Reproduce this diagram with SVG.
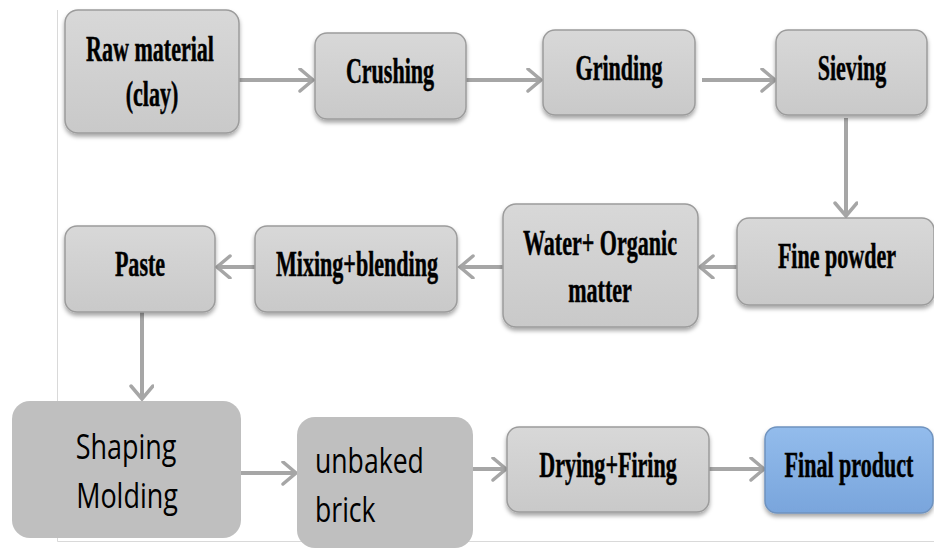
<svg xmlns="http://www.w3.org/2000/svg" width="934" height="548" viewBox="0 0 934 548">
<defs>
<linearGradient id="g" x1="0" y1="0" x2="0" y2="1"><stop offset="0" stop-color="#d8d8d8"/><stop offset="1" stop-color="#c9c9c9"/></linearGradient>
<linearGradient id="b" x1="0" y1="0" x2="0" y2="1"><stop offset="0" stop-color="#93bcec"/><stop offset="1" stop-color="#79a5dc"/></linearGradient>
<filter id="sh" x="-10%" y="-10%" width="120%" height="130%"><feDropShadow dx="0" dy="3" stdDeviation="2" flood-color="#000" flood-opacity="0.35"/></filter>
<marker id="ar" markerUnits="userSpaceOnUse" markerWidth="20" markerHeight="30" refX="15" refY="12" orient="auto"><path d="M2,1 L15,12 L2,23" fill="none" stroke="#a6a6a6" stroke-width="3.5" stroke-linecap="round"/></marker>
</defs>
<style>
.box{fill:url(#g);stroke:#9c9c9c;stroke-width:1.5;filter:url(#sh)}
.blue{fill:url(#b);stroke:#6f93bf;stroke-width:1.5;filter:url(#sh)}
.soft{fill:#bfbfbf}
.t{font-family:"Liberation Serif","Times New Roman",serif;font-weight:bold;font-size:35px;fill:#000;stroke:#000;stroke-width:0.5;text-anchor:middle}
.s{font-family:"Open Sans","Liberation Sans",sans-serif;font-size:35px;fill:#000}
.c{fill:none;stroke:#a6a6a6;stroke-width:4;marker-end:url(#ar)}
.frame{fill:none;stroke:#d9d9d9;stroke-width:1}
</style>
<rect width="934" height="548" fill="#fff"/>
<path class="frame" d="M57.5,10 V541.5 H934"/>
<g id="connectors">
<path class="c" d="M239,80 H313"/>
<path class="c" d="M466,80 H541"/>
<path class="c" d="M702,80 H775"/>
<path class="c" d="M846,118 V216"/>
<path class="c" d="M737,267 H700"/>
<path class="c" d="M503,267 H460"/>
<path class="c" d="M255,267 H217"/>
<path class="c" d="M142,312 V399"/>
<path class="c" d="M241,473 H296"/>
<path class="c" d="M473,469 H506"/>
<path class="c" d="M709,469 H764"/>
</g>
<g id="raw"><rect class="box" x="65" y="10" width="174" height="123" rx="13"/>
<text class="t" transform="translate(150,61) scale(0.63,1)">Raw material</text>
<text class="t" transform="translate(152,106) scale(0.63,1)">(clay)</text></g>
<g id="crushing"><rect class="box" x="315" y="33" width="151" height="86" rx="12"/>
<text class="t" transform="translate(390,83) scale(0.63,1)">Crushing</text></g>
<g id="grinding"><rect class="box" x="543" y="30" width="152" height="85" rx="12"/>
<text class="t" transform="translate(619,80) scale(0.63,1)">Grinding</text></g>
<g id="sieving"><rect class="box" x="776" y="30" width="151" height="85" rx="12"/>
<text class="t" transform="translate(852,80) scale(0.63,1)">Sieving</text></g>
<g id="finepowder"><rect class="box" x="737" y="218" width="197" height="87" rx="12"/>
<text class="t" transform="translate(837,268) scale(0.63,1)">Fine powder</text></g>
<g id="water"><rect class="box" x="503" y="204" width="195" height="123" rx="13"/>
<text class="t" transform="translate(600,255) scale(0.63,1)">Water+ Organic</text>
<text class="t" transform="translate(600,302) scale(0.63,1)">matter</text></g>
<g id="mixing"><rect class="box" x="255" y="226" width="202" height="86" rx="12"/>
<text class="t" transform="translate(357,276) scale(0.63,1)">Mixing+blending</text></g>
<g id="paste"><rect class="box" x="65" y="226" width="150" height="86" rx="12"/>
<text class="t" transform="translate(140,276) scale(0.63,1)">Paste</text></g>
<g id="shaping"><rect class="soft" x="12" y="401" width="229" height="137" rx="18"/>
<text class="s" text-anchor="middle" transform="translate(126,459) scale(0.77,1)">Shaping</text>
<text class="s" text-anchor="middle" transform="translate(127,508) scale(0.77,1)">Molding</text></g>
<g id="unbaked"><rect class="soft" x="297" y="417" width="176" height="131" rx="18"/>
<text class="s" transform="translate(315,473) scale(0.76,1)">unbaked</text>
<text class="s" transform="translate(315,522) scale(0.76,1)">brick</text></g>
<g id="drying"><rect class="box" x="507" y="427" width="202" height="85" rx="12"/>
<text class="t" transform="translate(608,477) scale(0.63,1)">Drying+Firing</text></g>
<g id="final"><rect class="blue" x="765" y="427" width="168" height="86" rx="12"/>
<text class="t" transform="translate(849,477) scale(0.63,1)">Final product</text></g>
</svg>
